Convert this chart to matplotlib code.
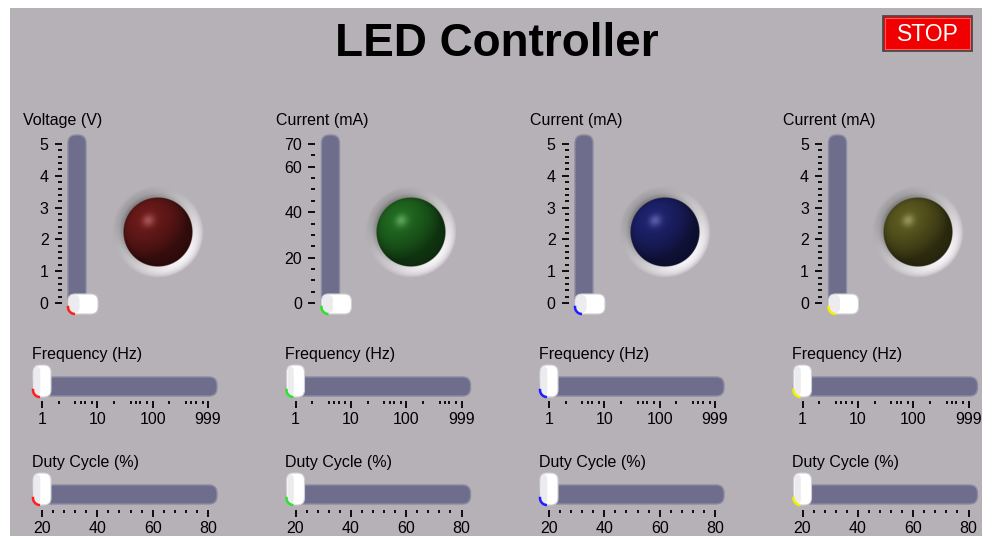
import numpy as np
import matplotlib.pyplot as plt
from matplotlib.patches import FancyBboxPatch, Rectangle, Arc
from matplotlib.ticker import FixedLocator, NullFormatter
from matplotlib.colors import to_rgb

plt.rcParams['font.family'] = ['Liberation Sans', 'DejaVu Sans']

W, H = 982, 539

# ---- panel contents ----
title = 'LED Controller'
gauge_labels = ['Voltage (V)', 'Current (mA)', 'Current (mA)', 'Current (mA)']
gauge_max = [5, 70, 5, 5]
gauge_ticks = [[0, 1, 2, 3, 4, 5], [0, 20, 40, 60, 70], [0, 1, 2, 3, 4, 5], [0, 1, 2, 3, 4, 5]]
gauge_minor = [0.2, 5, 0.2, 0.2]
gauge_values = [0, 0, 0, 0]
led_colors = ['#641818', '#1e621e', '#1c2066', '#55531d']
accent_colors = ['#ff1e1e', '#2fe02f', '#1e1eff', '#f2f200']

freq_ticks = [1, 10, 100, 999]
freq_labels = ['1', '10', '100', '999']
freq_minor = [2, 4, 5, 6, 8]
freq_values = [1, 1, 1, 1]

duty_ticks = [20, 40, 60, 80]
duty_minor = 4
duty_values = [20, 20, 20, 20]

PANEL = '#b5b1b7'
TRACK = '#6e6d8b'
COL = 253.5  # column spacing in px


def px_axes(x0, y0, x1, y1):
    return fig.add_axes([x0 / W, 1 - y1 / H, (x1 - x0) / W, (y1 - y0) / H])


def to_px(ax, x, y):
    d = ax.transData.transform((x, y))
    return d[0], H - d[1]


def bare(ax):
    ax.patch.set_visible(False)
    for s in ax.spines.values():
        s.set_visible(False)


def led_image(color, r_ball=35, r_bez=46, ss=3):
    n = 2 * r_bez * ss
    yy, xx = (np.mgrid[0:n, 0:n] + 0.5) / ss - r_bez
    d = np.hypot(xx, yy)
    panel = np.array(to_rgb(PANEL))
    base = np.array(to_rgb(color))
    # bezel ring: shadow top-left, bright lower-right
    s = (xx + yy) / (np.maximum(d, 1e-6) * np.sqrt(2))
    f = np.clip((d - r_ball) / (r_bez - r_ball), 0, 1)
    inner = np.exp(-((d - r_ball) / 3.0) ** 2)
    v = 0.79 + 0.17 * s + inner * (0.06 * s - 0.05)
    w = f[..., None] ** 2.5
    ring = v[..., None] * np.array([1.0, 0.985, 1.0]) * (1 - w) + panel * w
    ring_a = np.clip(r_bez - d, 0, 1)
    # ball
    r = np.minimum(d / r_ball, 0.999)
    nx, ny = xx / r_ball, yy / r_ball
    nz = np.sqrt(np.clip(1 - r ** 2, 0, 1))
    L = np.array([-0.5, -0.6, 0.62])
    L /= np.linalg.norm(L)
    Hh = L + np.array([0, 0, 1.0])
    Hh /= np.linalg.norm(Hh)
    diff = np.clip(nx * L[0] + ny * L[1] + nz * L[2], 0, 1)
    spec = np.clip(nx * Hh[0] + ny * Hh[1] + nz * Hh[2], 0, 1) ** 60
    ball = base * (0.55 + 0.6 * diff[..., None])
    ball = ball * (0.3 + 0.7 * nz[..., None] ** 0.3)
    ball = np.clip(ball + 0.22 * spec[..., None], 0, 1)
    ball_a = np.clip(r_ball - d, 0, 1)[..., None]
    rgb = ball * ball_a + ring * (1 - ball_a)
    img = np.dstack([rgb, ring_a])
    img = img.reshape(2 * r_bez, ss, 2 * r_bez, ss, 4).mean(axis=(1, 3))
    return img


fig = plt.figure(figsize=(W / 100, H / 100), dpi=100)
fig.patch.set_facecolor('white')
bg = fig.add_axes([0, 0, 1, 1], label='bg')
bg.set_xlim(0, W)
bg.set_ylim(H, 0)
bg.axis('off')

bg.add_patch(Rectangle((10, 8), W - 10, 528, fc=PANEL, ec='none'))
bg.text(497, 44, title, ha='center', va='center', fontsize=33, fontweight='bold', color='black')

# STOP button
bg.add_patch(Rectangle((883, 16), 89, 35, fc='#f00000', ec='#4a4a4a', lw=1.3))
bg.add_patch(Rectangle((885, 18), 85, 31, fc='none', ec='#ff5a5a', lw=0.8))
bg.text(927.5, 34.5, 'STOP', ha='center', va='center', fontsize=16.5, color='white')

thumbs = []

for i in range(4):
    ox = i * COL

    # vertical slider
    bg.text(23 + ox, 120, gauge_labels[i], ha='left', va='center', fontsize=11.5)
    bg.add_patch(FancyBboxPatch((68 + ox, 135), 18, 178, boxstyle='round,pad=0,rounding_size=8',
                                fc=TRACK, ec='#8b8aa2', lw=1.0))
    ax = px_axes(68 + ox, 135, 86 + ox, 313)
    bare(ax)
    vmax = gauge_max[i]
    upp = vmax / 159
    ax.set_ylim(-10 * upp, vmax + 9 * upp)
    ax.set_xlim(0, 1)
    ax.set_xticks([])
    ax.spines['left'].set_position(('outward', 4.5))
    ax.set_yticks(gauge_ticks[i])
    ax.yaxis.set_minor_locator(FixedLocator(np.arange(0, vmax + 1e-9, gauge_minor[i])))
    ax.tick_params(axis='y', which='major', length=5, width=1.3, pad=4.5, labelsize=11.5)
    ax.tick_params(axis='y', which='minor', length=2.8, width=1.3)
    vy = to_px(ax, 0, gauge_values[i])[1]
    thumbs.append(('v', 68 + ox, vy, accent_colors[i]))

    # LED
    img = led_image(led_colors[i])
    cx, cy = 158 + ox, 232
    bg.imshow(img, extent=(cx - 46, cx + 46, cy + 46, cy - 46), interpolation='bilinear', zorder=2)

    # frequency slider (log)
    bg.text(32 + ox, 354, 'Frequency (Hz)', ha='left', va='center', fontsize=11.5)
    bg.add_patch(FancyBboxPatch((33 + ox, 377), 184, 19, boxstyle='round,pad=0,rounding_size=8',
                                fc=TRACK, ec='#8b8aa2', lw=1.0))
    fa = px_axes(33 + ox, 377, 217 + ox, 396)
    bare(fa)
    fa.set_xscale('log')
    ppd = (208 - 42) / np.log10(999)
    fa.set_xlim(10 ** (-9 / ppd), 10 ** (np.log10(999) + 9 / ppd))
    fa.set_yticks([])
    fa.spines['bottom'].set_position(('outward', 3.5))
    fa.set_xticks(freq_ticks, labels=freq_labels)
    fa.xaxis.set_minor_locator(FixedLocator([m * 10 ** k for k in range(3) for m in freq_minor]))
    fa.xaxis.set_minor_formatter(NullFormatter())
    fa.tick_params(axis='x', which='major', length=5, width=1.3, pad=3, labelsize=11.5)
    fa.tick_params(axis='x', which='minor', length=2.5, width=1.3)
    vx = to_px(fa, freq_values[i], 1)[0]
    thumbs.append(('h', vx, 365, accent_colors[i]))

    # duty cycle slider
    bg.text(32 + ox, 463, 'Duty Cycle (%)', ha='left', va='center', fontsize=11.5)
    bg.add_patch(FancyBboxPatch((33 + ox, 485), 184, 19, boxstyle='round,pad=0,rounding_size=8',
                                fc=TRACK, ec='#8b8aa2', lw=1.0))
    da = px_axes(33 + ox, 485, 217 + ox, 504)
    bare(da)
    upp = (duty_ticks[-1] - duty_ticks[0]) / 166
    da.set_xlim(duty_ticks[0] - 9 * upp, duty_ticks[-1] + 9 * upp)
    da.set_yticks([])
    da.spines['bottom'].set_position(('outward', 4.5))
    da.set_xticks(duty_ticks)
    da.xaxis.set_minor_locator(FixedLocator(np.arange(duty_ticks[0], duty_ticks[-1] + 1, duty_minor)))
    da.tick_params(axis='x', which='major', length=5, width=1.3, pad=2.5, labelsize=11.5)
    da.tick_params(axis='x', which='minor', length=2.5, width=1.3)
    vx = to_px(da, duty_values[i], 1)[0]
    thumbs.append(('h', vx, 473, accent_colors[i]))

# thumbs drawn on top of everything
top = fig.add_axes([0, 0, 1, 1], label='top', zorder=10)
top.set_xlim(0, W)
top.set_ylim(H, 0)
top.axis('off')
for kind, x, y, c in thumbs:
    if kind == 'v':
        x0, y0, w, h = x, y - 9, 30, 20
    else:
        x0, y0, w, h = x - 9, y, 18, 32
    top.add_patch(FancyBboxPatch((x0, y0), w, h, boxstyle='round,pad=0,rounding_size=7',
                                 fc='white', ec='#cfcfd4', lw=0.8))
    top.add_patch(FancyBboxPatch((x0 + 1, y0 + 1), w * 0.35, h - 2, boxstyle='round,pad=0,rounding_size=5',
                                 fc='#e4e4e8', ec='none', alpha=0.7))
    top.add_patch(Arc((x0 + 7, y0 + h - 7), 14, 14, theta1=90, theta2=190, color=c, lw=1.8))

fig.savefig('out.png', dpi=100)
